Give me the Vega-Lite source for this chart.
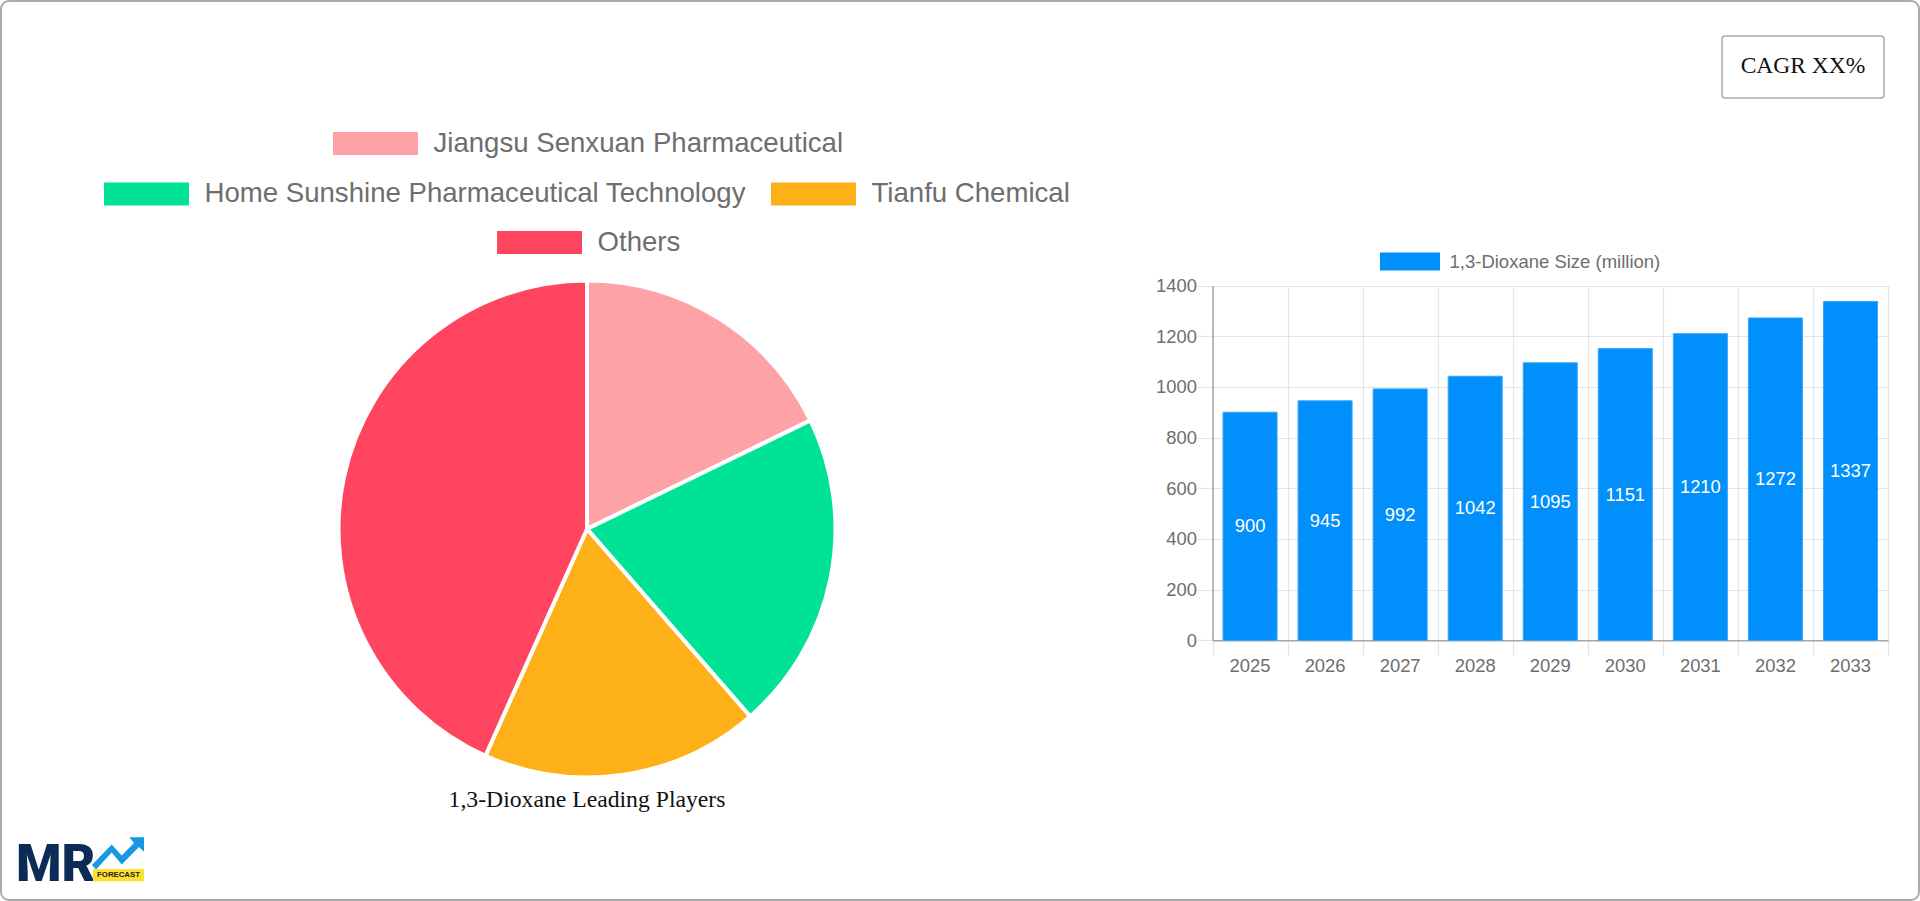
{
  "$schema": "https://vega.github.io/schema/vega-lite/v6.json",
  "description": "1,3-Dioxane leading players and market size",
  "autosize": "none",
  "padding": 1,
  "width": 1918,
  "height": 899,
  "background": "white",
  "view": {"stroke": "#aaaaaa", "strokeWidth": 2, "cornerRadius": 8, "fill": "white"},
  "config": {"font": "Liberation Sans"},
  "datasets": {
    "players": [
      {"player": "Jiangsu Senxuan Pharmaceutical", "share": 17.8, "rank": 1},
      {"player": "Home Sunshine Pharmaceutical Technology", "share": 20.8, "rank": 2},
      {"player": "Tianfu Chemical", "share": 18.1, "rank": 3},
      {"player": "Others", "share": 43.3, "rank": 4}
    ],
    "sizes": [
      {"year": 2025, "size": 900},
      {"year": 2026, "size": 945},
      {"year": 2027, "size": 992},
      {"year": 2028, "size": 1042},
      {"year": 2029, "size": 1095},
      {"year": 2030, "size": 1151},
      {"year": 2031, "size": 1210},
      {"year": 2032, "size": 1272},
      {"year": 2033, "size": 1337}
    ]
  },
  "layer": [
    {
      "data": {"name": "players"},
      "mark": {"type": "arc", "outerRadius": 248.5, "stroke": "white", "strokeWidth": 4},
      "encoding": {
        "x": {"datum": "pie", "scale": {"type": "point", "domain": ["pie"], "range": [586, 586]}, "axis": null},
        "y": {"datum": "pie", "scale": {"type": "point", "domain": ["pie"], "range": [528, 528]}, "axis": null},
        "theta": {"field": "share", "type": "quantitative", "stack": true},
        "order": {"field": "rank"},
        "color": {
          "field": "player",
          "type": "nominal",
          "scale": {
            "domain": ["Jiangsu Senxuan Pharmaceutical", "Home Sunshine Pharmaceutical Technology", "Tianfu Chemical", "Others"],
            "range": ["#FDA3A8", "#00E396", "#FEB019", "#FF4560"]
          },
          "legend": null
        }
      }
    },
    {
      "data": {"name": "players"},
      "transform": [{"filter": "datum.rank == 1"}],
      "mark": {"type": "arc", "outerRadius": 0, "strokeWidth": 0},
      "encoding": {
        "theta": {"field": "share", "type": "quantitative"},
        "color": {
          "field": "player",
          "type": "nominal",
          "scale": {"range": ["#FDA3A8"]},
          "legend": {"title": null, "orient": "none", "legendX": 332, "legendY": 100, "padding": 0, "symbolType": "M-1,-.27H1V.27H-1Z", "symbolSize": 7225, "symbolStrokeWidth": 0, "labelFont": "Liberation Sans", "labelFontSize": 27.6, "labelColor": "#6e6e6e", "labelLimit": 700, "labelOffset": 15.5}
        }
      }
    },
    {
      "data": {"name": "players"},
      "transform": [{"filter": "datum.rank == 2 || datum.rank == 3"}],
      "mark": {"type": "arc", "outerRadius": 0, "strokeWidth": 0},
      "encoding": {
        "theta": {"field": "share", "type": "quantitative"},
        "color": {
          "field": "player",
          "type": "nominal",
          "scale": {"domain": ["Home Sunshine Pharmaceutical Technology", "Tianfu Chemical"], "range": ["#00E396", "#FEB019"]},
          "legend": {"title": null, "orient": "none", "direction": "horizontal", "columns": 2, "columnPadding": 25, "gridAlign": "each", "legendX": 103, "legendY": 150, "padding": 0, "symbolType": "M-1,-.27H1V.27H-1Z", "symbolSize": 7225, "symbolStrokeWidth": 0, "labelFont": "Liberation Sans", "labelFontSize": 27.6, "labelColor": "#6e6e6e", "labelLimit": 700, "labelOffset": 15.5}
        }
      }
    },
    {
      "data": {"name": "players"},
      "transform": [{"filter": "datum.rank == 4"}],
      "mark": {"type": "arc", "outerRadius": 0, "strokeWidth": 0},
      "encoding": {
        "theta": {"field": "share", "type": "quantitative"},
        "color": {
          "field": "player",
          "type": "nominal",
          "scale": {"range": ["#FF4560"]},
          "legend": {"title": null, "orient": "none", "legendX": 496, "legendY": 199, "padding": 0, "symbolType": "M-1,-.27H1V.27H-1Z", "symbolSize": 7225, "symbolStrokeWidth": 0, "labelFont": "Liberation Sans", "labelFontSize": 27.6, "labelColor": "#6e6e6e", "labelLimit": 700, "labelOffset": 15.5}
        }
      }
    },
    {
      "data": {"values": [{"label": "1,3-Dioxane Leading Players"}]},
      "mark": {"type": "text", "font": "Liberation Serif", "fontSize": 23.7, "color": "#111111", "align": "center", "baseline": "middle"},
      "encoding": {
        "x": {"field": "label", "type": "nominal", "scale": {"type": "point", "range": [586, 586]}, "axis": null},
        "y": {"field": "label", "type": "nominal", "scale": {"type": "point", "range": [798.5, 798.5]}, "axis": null},
        "text": {"field": "label"}
      }
    },
    {
      "data": {"name": "sizes"},
      "mark": {"type": "point", "opacity": 0},
      "encoding": {
        "x": {
          "field": "year",
          "type": "quantitative",
          "scale": {"domain": [2024.5, 2033.5], "range": [1211.5, 1887], "nice": false, "zero": false},
          "axis": {"orient": "bottom", "offset": -259.7, "title": null, "values": [2024.5, 2025.5, 2026.5, 2027.5, 2028.5, 2029.5, 2030.5, 2031.5, 2032.5, 2033.5], "labels": false, "grid": true, "gridColor": "#e5e5e5", "gridWidth": 1.2, "tickColor": "#e5e5e5", "tickWidth": 1.2, "tickSize": 15, "domainColor": "#a6a6a6", "domainWidth": 1.5}
        },
        "y": {
          "field": "size",
          "type": "quantitative",
          "scale": {"domain": [0, 1400], "range": [259.7, 614.5], "nice": false},
          "axis": null
        }
      }
    },
    {
      "data": {"name": "sizes"},
      "mark": {"type": "point", "opacity": 0},
      "encoding": {
        "x": {
          "field": "year",
          "type": "quantitative",
          "scale": {"domain": [2024.5, 2033.5], "range": [1211.5, 1887], "nice": false, "zero": false},
          "axis": null
        },
        "y": {
          "field": "size",
          "type": "quantitative",
          "scale": {"domain": [0, 1400], "range": [639.3, 284.5], "nice": false},
          "axis": {"orient": "left", "offset": -1211.5, "title": null, "format": "d", "values": [0, 200, 400, 600, 800, 1000, 1200, 1400], "grid": true, "gridColor": "#e5e5e5", "gridWidth": 1.2, "tickColor": "#e5e5e5", "tickWidth": 1.2, "tickSize": 15, "labelPadding": 1, "labelFont": "Liberation Sans", "labelFontSize": 18.4, "labelColor": "#6e6e6e", "domainColor": "#a6a6a6", "domainWidth": 1.5}
        }
      }
    },
    {
      "data": {"name": "sizes"},
      "mark": {"type": "bar", "stroke": "#3aa6fc", "strokeWidth": 1},
      "encoding": {
        "x": {
          "field": "year",
          "type": "ordinal",
          "scale": {"type": "band", "range": [1211.5, 1887], "paddingInner": 0.28, "paddingOuter": 0.14},
          "axis": {"orient": "bottom", "offset": -259.7, "title": null, "labelAngle": 0, "ticks": false, "tickSize": 0, "domain": false, "grid": false, "labelPadding": 16, "labelFont": "Liberation Sans", "labelFontSize": 18.4, "labelColor": "#6e6e6e"}
        },
        "y": {
          "field": "size",
          "type": "quantitative",
          "scale": {"domain": [0, 1400], "range": [639.3, 284.5], "nice": false},
          "axis": null
        },
        "color": {
          "datum": "1,3-Dioxane Size (million)",
          "type": "nominal",
          "scale": {"range": ["#008FFB"]},
          "legend": {"title": null, "orient": "none", "legendX": 1379, "legendY": 230.5, "padding": 0, "symbolType": "M-1,-.3H1V.3H-1Z", "symbolSize": 3600, "symbolStrokeWidth": 0, "labelFont": "Liberation Sans", "labelFontSize": 18.5, "labelColor": "#6e6e6e", "labelLimit": 400, "labelOffset": 9.5}
        }
      }
    },
    {
      "data": {"name": "sizes"},
      "mark": {"type": "text", "color": "white", "font": "Liberation Sans", "fontSize": 18.4, "baseline": "middle", "dy": 0.2},
      "encoding": {
        "x": {
          "field": "year",
          "type": "ordinal",
          "scale": {"type": "band", "range": [1211.5, 1887], "paddingInner": 0.28, "paddingOuter": 0.14},
          "axis": null
        },
        "y": {
          "field": "size",
          "type": "quantitative",
          "scale": {"domain": [0, 2800], "range": [639.3, 284.5], "nice": false},
          "axis": null
        },
        "text": {"field": "size", "type": "quantitative"}
      }
    },
    {
      "data": {"values": [{"label": "CAGR XX%"}]},
      "mark": {"type": "rect", "fill": "white", "stroke": "#aaaaaa", "strokeWidth": 1.5, "cornerRadius": 3},
      "encoding": {
        "x": {"field": "label", "type": "nominal", "scale": {"type": "band", "range": [1721, 1883], "padding": 0}, "axis": null},
        "y": {"field": "label", "type": "nominal", "scale": {"type": "band", "range": [35, 97], "padding": 0}, "axis": null}
      }
    },
    {
      "data": {"values": [{"label": "CAGR XX%"}]},
      "mark": {"type": "text", "font": "Liberation Serif", "fontSize": 23.5, "color": "#111111", "baseline": "middle", "dy": -1},
      "encoding": {
        "x": {"field": "label", "type": "nominal", "scale": {"type": "band", "range": [1721, 1883], "padding": 0}, "axis": null},
        "y": {"field": "label", "type": "nominal", "scale": {"type": "band", "range": [35, 97], "padding": 0}, "axis": null},
        "text": {"field": "label"}
      }
    },
    {
      "data": {"values": [{"label": "MR"}]},
      "mark": {"type": "text", "font": "Roboto", "fontWeight": 900, "fontSize": 52, "color": "#0b2c56", "align": "left", "baseline": "alphabetic"},
      "encoding": {
        "x": {"field": "label", "type": "nominal", "scale": {"type": "point", "range": [15, 15]}, "axis": null},
        "y": {"field": "label", "type": "nominal", "scale": {"type": "point", "range": [879.7, 879.7]}, "axis": null},
        "text": {"field": "label"}
      }
    },
    {
      "data": {"values": [{"label": "arrow"}]},
      "mark": {"type": "point", "filled": true, "opacity": 1, "size": 2500, "color": "#1a96e6", "shape": "M-1.08,.48L-.292,-.34L.108,.1L.6,-.4L.412,-.628L1,-.628L1,-.052L.8,-.24L.108,.46L-.292,-.02L-.92,.66Z"},
      "encoding": {
        "x": {"field": "label", "type": "nominal", "scale": {"type": "point", "range": [118, 118]}, "axis": null},
        "y": {"field": "label", "type": "nominal", "scale": {"type": "point", "range": [852, 852]}, "axis": null}
      }
    },
    {
      "data": {"values": [{"label": "FORECAST"}]},
      "mark": {"type": "rect", "fill": "#fde030"},
      "encoding": {
        "x": {"field": "label", "type": "nominal", "scale": {"type": "band", "range": [92, 143], "padding": 0}, "axis": null},
        "y": {"field": "label", "type": "nominal", "scale": {"type": "band", "range": [868, 880.3], "padding": 0}, "axis": null}
      }
    },
    {
      "data": {"values": [{"label": "FORECAST"}]},
      "mark": {"type": "text", "font": "Liberation Sans", "fontWeight": "bold", "fontSize": 7.8, "color": "#222222", "baseline": "middle"},
      "encoding": {
        "x": {"field": "label", "type": "nominal", "scale": {"type": "band", "range": [92, 143], "padding": 0}, "axis": null},
        "y": {"field": "label", "type": "nominal", "scale": {"type": "band", "range": [868, 880.3], "padding": 0}, "axis": null},
        "text": {"field": "label"}
      }
    }
  ],
  "resolve": {
    "scale": {"x": "independent", "y": "independent", "color": "independent", "theta": "independent"}
  }
}
